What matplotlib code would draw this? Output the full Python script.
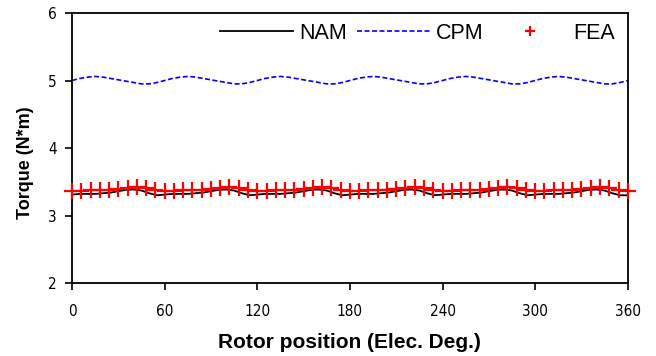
import numpy as np
import matplotlib
matplotlib.use("Agg")
import matplotlib.pyplot as plt

# rotor position (elec. deg.)
pos_line = list(range(0, 361, 5))
pos_fea = list(range(0, 361, 6))

# NAM torque, every 5 deg
nam = [3.31, 3.32, 3.32, 3.32, 3.33, 3.34, 3.36, 3.38, 3.385, 3.37, 3.33, 3.30,
       3.31, 3.32, 3.32, 3.32, 3.33, 3.34, 3.36, 3.38, 3.385, 3.37, 3.33, 3.30,
       3.31, 3.32, 3.32, 3.32, 3.33, 3.34, 3.36, 3.38, 3.385, 3.37, 3.33, 3.30,
       3.31, 3.32, 3.32, 3.32, 3.33, 3.34, 3.36, 3.38, 3.385, 3.37, 3.33, 3.30,
       3.31, 3.32, 3.32, 3.32, 3.33, 3.34, 3.36, 3.38, 3.385, 3.37, 3.33, 3.30,
       3.31, 3.32, 3.32, 3.32, 3.33, 3.34, 3.36, 3.38, 3.385, 3.37, 3.33, 3.30,
       3.30]

# CPM torque, every 5 deg
cpm = [5.00, 5.03, 5.05, 5.06, 5.05, 5.03, 5.01, 4.99, 4.97, 4.95, 4.95, 4.97,
       5.00, 5.03, 5.05, 5.06, 5.05, 5.03, 5.01, 4.99, 4.97, 4.95, 4.95, 4.97,
       5.00, 5.03, 5.05, 5.06, 5.05, 5.03, 5.01, 4.99, 4.97, 4.95, 4.95, 4.97,
       5.00, 5.03, 5.05, 5.06, 5.05, 5.03, 5.01, 4.99, 4.97, 4.95, 4.95, 4.97,
       5.00, 5.03, 5.05, 5.06, 5.05, 5.03, 5.01, 4.99, 4.97, 4.95, 4.95, 4.97,
       5.00, 5.03, 5.05, 5.06, 5.05, 5.03, 5.01, 4.99, 4.97, 4.95, 4.95, 4.97,
       5.00]

# FEA torque, every 6 deg
fea = [3.37, 3.36, 3.38, 3.38, 3.38, 3.39, 3.41, 3.42, 3.41, 3.38,
       3.37, 3.36, 3.38, 3.38, 3.38, 3.39, 3.41, 3.42, 3.41, 3.38,
       3.37, 3.36, 3.38, 3.38, 3.38, 3.39, 3.41, 3.42, 3.41, 3.38,
       3.37, 3.36, 3.38, 3.38, 3.38, 3.39, 3.41, 3.42, 3.41, 3.38,
       3.37, 3.36, 3.38, 3.38, 3.38, 3.39, 3.41, 3.42, 3.41, 3.38,
       3.37, 3.36, 3.38, 3.38, 3.38, 3.39, 3.41, 3.42, 3.41, 3.38,
       3.37]

xticks = [0, 60, 120, 180, 240, 300, 360]
yticks = [2, 3, 4, 5, 6]

fig = plt.figure(figsize=(6.56, 3.56), dpi=100)
ax = fig.add_axes([0.1098, 0.205, 0.8472, 0.7585])

ax.plot(pos_line, nam, color="black", lw=1.3, label="NAM")
ax.plot(pos_line, cpm, color="blue", lw=1.2, ls=(0, (3, 1.5)), label="CPM")
ax.plot(pos_fea, fea, ls="none", marker="+", color="red", ms=11, mew=1.6,
        label="FEA", clip_on=False, zorder=3)

ax.set_xlim(0, 360)
ax.set_ylim(2, 6)
ax.set_xticks(xticks)
ax.set_yticks(yticks)
ax.tick_params(direction="out", length=5, width=1.2)
ax.tick_params(axis="x", pad=10)
ax.tick_params(axis="y", pad=6)
for lab in ax.get_xticklabels() + ax.get_yticklabels():
    lab.set_fontfamily("DejaVu Sans")
    lab.set_fontstretch("condensed")
    lab.set_fontsize(11)
for s in ax.spines.values():
    s.set_linewidth(1.3)

ax.set_xlabel("Rotor position (Elec. Deg.)", fontsize=15, fontweight="bold",
              family="Liberation Sans")
ax.xaxis.set_label_coords(0.5, -0.185)
ax.set_ylabel("Torque (N*m)", fontsize=13, fontweight="bold",
              family="Liberation Sans")
ax.yaxis.set_label_coords(-0.068, 0.444)

leg = ax.legend(loc="upper right", ncol=3, frameon=False, handlelength=3.4,
                handletextpad=0.3, columnspacing=0.45,
                prop={"family": "Liberation Sans", "size": 15.5},
                bbox_to_anchor=(1.012, 1.035), markerscale=0.7)

fig.savefig("out.png", dpi=100)
